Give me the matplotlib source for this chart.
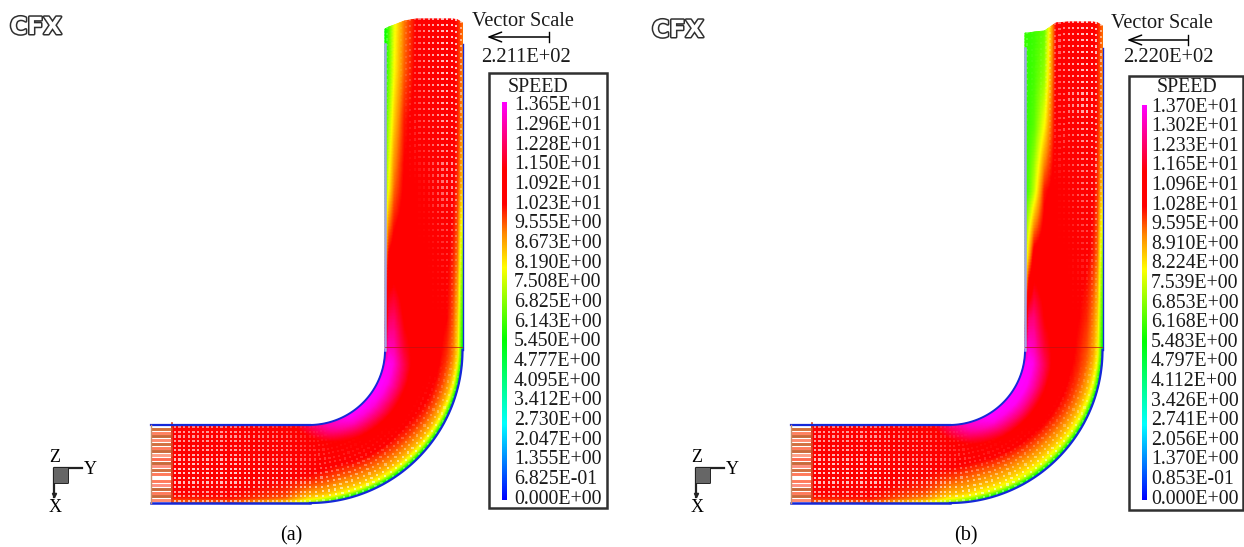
#!/usr/bin/env python
# -*- coding: utf-8 -*-
import numpy as np
import matplotlib
matplotlib.use('Agg')
import matplotlib.pyplot as plt
import matplotlib.patheffects as pe
from matplotlib.colors import LinearSegmentedColormap

plt.rcParams['font.family'] = ['Liberation Serif', 'DejaVu Serif']

labels_a = ['1.365E+01', '1.296E+01', '1.228E+01', '1.150E+01', '1.092E+01', '1.023E+01', '9.555E+00',
            '8.673E+00', '8.190E+00', '7.508E+00', '6.825E+00', '6.143E+00', '5.450E+00', '4.777E+00',
            '4.095E+00', '3.412E+00', '2.730E+00', '2.047E+00', '1.355E+00', '6.825E-01', '0.000E+00']
labels_b = ['1.370E+01', '1.302E+01', '1.233E+01', '1.165E+01', '1.096E+01', '1.028E+01', '9.595E+00',
            '8.910E+00', '8.224E+00', '7.539E+00', '6.853E+00', '6.168E+00', '5.483E+00', '4.797E+00',
            '4.112E+00', '3.426E+00', '2.741E+00', '2.056E+00', '1.370E+00', '0.853E-01', '0.000E+00']

# stations along the pipe: 0-1 straight inlet, 1-2 bend, 2-3 outlet leg
stations = [0.13, 0.5, 0.85, 1.0, 1.15, 1.35, 1.55, 1.75, 1.9, 2.0, 2.1, 2.3, 2.5, 2.7, 2.85, 3.0]
# position across the pipe: 0 inner wall, 1 outer wall
across = [0, 0.05, 0.12, 0.25, 0.4, 0.55, 0.7, 0.8, 0.88, 0.94, 1.0]

speed_a = [
    [10.0, 10.3, 10.4, 10.4, 10.4, 10.4, 10.4, 10.3, 10.2, 10.0, 9.4],
    [10.2, 10.4, 10.4, 10.4, 10.4, 10.4, 10.4, 10.3, 10.2, 10.1, 9.5],
    [11.0, 10.9, 10.8, 10.6, 10.4, 10.4, 10.2, 10.0, 9.8, 9.5, 8.5],
    [12.2, 12.0, 11.6, 10.9, 10.5, 10.4, 10.0, 9.5, 9.0, 8.4, 7.2],
    [13.0, 12.9, 12.5, 11.4, 10.6, 10.2, 9.6, 9.0, 8.5, 7.8, 5.5],
    [13.6, 13.6, 13.2, 12.0, 10.8, 10.4, 9.6, 9.1, 8.5, 7.6, 5.0],
    [13.7, 13.7, 13.4, 12.3, 11.0, 10.4, 9.8, 9.2, 8.6, 7.6, 5.0],
    [13.6, 13.7, 13.5, 12.4, 11.0, 10.5, 10.1, 9.5, 8.8, 7.8, 5.0],
    [13.2, 13.6, 13.4, 12.2, 11.0, 10.5, 10.2, 9.7, 9.0, 8.0, 5.0],
    [12.2, 13.2, 13.0, 11.8, 11.0, 10.6, 10.3, 9.9, 9.3, 8.3, 5.5],
    [9.5, 12.2, 12.3, 11.3, 10.8, 10.6, 10.4, 10.2, 9.6, 8.6, 6.0],
    [8.2, 10.2, 10.6, 10.6, 10.6, 10.5, 10.4, 10.3, 10.0, 9.4, 7.0],
    [6.5, 8.0, 9.4, 10.3, 10.5, 10.5, 10.4, 10.4, 10.3, 9.8, 8.5],
    [5.8, 7.2, 8.5, 10.0, 10.4, 10.5, 10.5, 10.4, 10.3, 10.0, 9.0],
    [5.5, 6.5, 8.0, 9.5, 10.3, 10.5, 10.5, 10.4, 10.3, 10.0, 9.2],
    [5.5, 6.2, 7.8, 9.3, 10.2, 10.5, 10.5, 10.4, 10.3, 10.0, 9.4],
]
speed_b = [
    [10.0, 10.3, 10.4, 10.4, 10.4, 10.4, 10.4, 10.3, 10.2, 10.0, 9.4],
    [10.2, 10.4, 10.4, 10.4, 10.4, 10.4, 10.4, 10.3, 10.2, 10.1, 9.5],
    [11.0, 10.9, 10.8, 10.6, 10.4, 10.3, 10.1, 9.9, 9.6, 9.2, 8.2],
    [12.4, 12.2, 11.8, 11.0, 10.5, 10.2, 9.7, 9.2, 8.8, 8.2, 7.0],
    [13.2, 13.1, 12.7, 11.6, 10.6, 10.0, 9.3, 8.8, 8.3, 7.6, 5.5],
    [13.7, 13.7, 13.4, 12.2, 10.9, 10.1, 9.3, 8.7, 8.2, 7.4, 5.0],
    [13.7, 13.7, 13.6, 12.5, 11.0, 10.3, 9.5, 8.9, 8.3, 7.4, 5.0],
    [13.7, 13.7, 13.6, 12.5, 11.0, 10.4, 9.8, 9.2, 8.5, 7.6, 5.0],
    [13.4, 13.7, 13.5, 12.3, 11.0, 10.4, 9.9, 9.4, 8.7, 7.8, 5.0],
    [12.5, 13.4, 13.1, 11.9, 11.0, 10.5, 10.0, 9.6, 9.0, 8.1, 5.5],
    [9.0, 12.4, 12.5, 11.4, 10.9, 10.5, 10.2, 9.9, 9.3, 8.5, 6.0],
    [6.8, 8.6, 10.6, 10.7, 10.6, 10.5, 10.4, 10.3, 10.0, 9.4, 7.0],
    [6.0, 6.4, 7.4, 10.0, 10.5, 10.5, 10.4, 10.4, 10.3, 9.8, 8.5],
    [6.0, 6.1, 6.4, 8.0, 10.4, 10.5, 10.5, 10.4, 10.3, 10.0, 9.0],
    [6.0, 6.0, 6.2, 7.0, 10.3, 10.5, 10.5, 10.4, 10.3, 10.0, 9.2],
    [6.0, 6.0, 6.1, 6.5, 10.2, 10.5, 10.5, 10.4, 10.3, 10.0, 9.4],
]
# how much white shows between the vectors
gaps = [
    [0.4, 0.6, 0.6, 0.6, 0.7, 0.8, 0.8, 0.7, 0.6, 0.6, 0.6],
    [0.4, 0.6, 0.6, 0.6, 0.7, 0.8, 0.8, 0.7, 0.6, 0.6, 0.6],
    [0.1, 0.3, 0.4, 0.5, 0.5, 0.7, 0.7, 0.6, 0.6, 0.5, 0.5],
    [0.0, 0.1, 0.1, 0.2, 0.3, 0.4, 0.5, 0.6, 0.6, 0.6, 0.3],
    [0.0, 0.0, 0.0, 0.0, 0.1, 0.2, 0.4, 0.5, 0.6, 0.6, 0.3],
    [0.0, 0.0, 0.0, 0.0, 0.0, 0.1, 0.3, 0.4, 0.6, 0.5, 0.2],
    [0.0, 0.0, 0.0, 0.0, 0.0, 0.0, 0.2, 0.3, 0.5, 0.5, 0.2],
    [0.0, 0.0, 0.0, 0.0, 0.0, 0.0, 0.1, 0.2, 0.3, 0.3, 0.1],
    [0.0, 0.0, 0.0, 0.0, 0.0, 0.0, 0.0, 0.1, 0.2, 0.2, 0.1],
    [0.0, 0.0, 0.0, 0.0, 0.0, 0.0, 0.0, 0.0, 0.1, 0.1, 0.0],
    [0.0, 0.0, 0.0, 0.0, 0.0, 0.0, 0.0, 0.0, 0.1, 0.1, 0.0],
    [0.0, 0.0, 0.0, 0.0, 0.0, 0.0, 0.1, 0.2, 0.3, 0.2, 0.1],
    [0.0, 0.0, 0.0, 0.0, 0.0, 0.1, 0.4, 0.5, 0.6, 0.5, 0.2],
    [0.1, 0.0, 0.0, 0.0, 0.2, 0.4, 0.6, 0.7, 0.7, 0.6, 0.3],
    [0.3, 0.1, 0.0, 0.1, 0.3, 0.6, 0.7, 0.8, 0.8, 0.7, 0.4],
    [0.3, 0.1, 0.0, 0.1, 0.3, 0.6, 0.7, 0.8, 0.8, 0.7, 0.4],
]
# height reached by the vector tips at each across position
tips_a = [29, 27, 25, 21, 19, 19, 19, 19, 19, 20, 23]
tips_b = [33, 33, 32, 31, 23, 22, 22, 22, 22, 23, 26]

inlet_shades = ['#d0703a', '#ff8060', '#c8693a', '#ff8a70', '#d07040', '#ff7a5a', '#c8693a', '#ffa088',
                '#ff6a50', '#c8693a', '#ff9080', '#d07040', '#ff7a5a', '#ffffff', '#ff7a5a', '#ff9080',
                '#c8693a', '#ff7a5a', '#c8693a', '#ff8a70']

cmap = LinearSegmentedColormap.from_list('cfx', [
    (0.0, '#0000ff'), (2.6 / 13.7, '#00ffff'), (5.5 / 13.7, '#00ff00'), (8.0 / 13.7, '#ffff00'),
    (9.2 / 13.7, '#ff8800'), (10.2 / 13.7, '#ff0000'), (11.4 / 13.7, '#ff0000'), (1.0, '#ff00ff')])


def place(s, t, tips, dx):
    # pipe coordinates to picture pixels
    s, t = np.asarray(s, float), np.asarray(t, float)
    ang = np.clip(s - 1, 0, 1) * np.pi / 2
    r = 75 + 77.5 * t
    x = 310 + r * np.sin(ang)
    y = 350 + r * np.cos(ang)
    x = np.where(s < 1, 151 + s * 159, x)
    top = np.interp(t, across, tips)
    y = np.where(s > 2, 350 - (s - 2) * (350 - top), y)
    return x + dx, y


def resample(table, s_new, t_new):
    table = np.array(table, float)
    rows = np.array([np.interp(t_new, across, r) for r in table])
    return np.array([np.interp(s_new, stations, rows[:, j]) for j in range(len(t_new))]).T


def draw_panel(ax, speed, tips, labels, dx, wall_top, scale, scale_text, vs_y, cap, cap_x, box, bar, lab_x, lab_y,
               speed_x, logo, triad_dx):
    s_f = np.linspace(stations[0], stations[-1], 300)
    t_f = np.linspace(0, 1, 80)
    S, T = np.meshgrid(s_f, t_f, indexing='ij')
    X, Y = place(S, T, tips, dx)
    ax.pcolormesh(X, Y, resample(speed, s_f, t_f), cmap=cmap, vmin=0, vmax=13.7, shading='gouraud', zorder=2)

    # inlet stubs of the vectors
    for i, c in enumerate(inlet_shades):
        y = 427 + (i + 0.5) * 75 / len(inlet_shades)
        ax.plot([151 + dx, 172 + dx], [y, y], color=c, lw=2.1, solid_capstyle='butt', zorder=2)
    ax.plot([172 + dx, 172 + dx], [423, 503], color='#d84020', lw=1.2, zorder=3)

    # white showing between the vector lines
    s_d = np.concatenate([np.linspace(0.15, 1, 30), np.linspace(1, 2, 36)[1:], np.linspace(2, 3, 56)[1:]])
    t_d = np.linspace(0.03, 0.98, 17)
    Sd, Td = np.meshgrid(s_d, t_d, indexing='ij')
    Xd, Yd = place(Sd, Td, tips, dx)
    rgba = np.ones((Sd.size, 4))
    rgba[:, 3] = resample(gaps, s_d, t_d).ravel()
    ax.scatter(Xd.ravel(), Yd.ravel(), s=2.4, c=rgba, marker='s', linewidths=0, zorder=4)

    # pipe outline
    blue = '#1428d8'
    ang = np.linspace(0, np.pi / 2, 80)
    ax.plot(310 + dx + 76 * np.sin(ang) - 1, 350 + 75 * np.cos(ang), color=blue, lw=1.4, zorder=5)
    ax.plot(310 + dx + 152.5 * np.sin(ang), 350 + 153 * np.cos(ang), color=blue, lw=1.6, zorder=5)
    ax.plot([151 + dx, 310 + dx], [425, 425], color=blue, lw=1.6, zorder=5)
    ax.plot([151 + dx, 310 + dx], [503, 503], color=blue, lw=1.8, zorder=5)
    ax.plot([151 + dx, 151 + dx], [425, 503], color='#c89070', lw=1, zorder=5)
    ax.plot([384.5 + dx, 384.5 + dx], [wall_top, 350], color='#a0a4e8', lw=1.8, zorder=5)
    ax.plot([462.5 + dx, 462.5 + dx], [wall_top, 350], color=blue, lw=1, zorder=5)
    ax.plot([385 + dx, 462 + dx], [347, 347], color='#c01010', lw=0.5, zorder=5)

    # vector scale
    ax.text(scale[0] - 26, vs_y, 'Vector Scale', fontsize=14.6, ha='center', va='center', color='#1a1a1a', zorder=6)
    ax.annotate('', xy=(scale[1], scale[2]), xytext=(scale[0], scale[2]),
                arrowprops=dict(arrowstyle='->,head_length=0.9,head_width=0.35', lw=1.1, color='k', shrinkA=0, shrinkB=0))
    ax.plot([scale[0], scale[0]], [scale[2] - 5, scale[2] + 5], color='k', lw=1)
    ax.text(scale[3], 58, scale_text, fontsize=14.8, ha='left', va='center', color='#1a1a1a')

    # legend
    ax.add_patch(plt.Rectangle((box[0], box[1]), box[2] - box[0], box[3] - box[1], fc='white', ec='#303030', lw=1.8, zorder=6))
    grad = np.linspace(13.7, 0, 256).reshape(-1, 1)
    ax.imshow(grad, extent=[bar[0], bar[1], bar[3], bar[2]], cmap=cmap, vmin=0, vmax=13.7, aspect='auto', zorder=7)
    ax.text(speed_x, 88, 'SPEED', fontsize=14.3, ha='left', va='center', color='#1a1a1a', zorder=7)
    for lab, y in zip(labels, np.linspace(lab_y[0], lab_y[1], len(labels))):
        ax.text(lab_x, y, lab, fontsize=14.3, ha='left', va='center', color='#1a1a1a', zorder=7)

    # logo
    ax.text(logo[0], logo[1], 'CFX', fontsize=17, fontweight='bold', family='DejaVu Sans',
            ha='left', va='center', color='white',
            path_effects=[pe.withStroke(linewidth=2.2, foreground='#303030')])

    # axis triad
    tx = dx + triad_dx
    ax.add_patch(plt.Rectangle((54 + tx, 468), 14, 15, fc='#666666', ec='none', zorder=3))
    ax.plot([54 + tx, 54 + tx, 82 + tx], [497, 468, 468], color='#222222', lw=1.6)
    ax.plot([54 + tx, 68 + tx, 68 + tx], [483, 483, 468], color='#222222', lw=1.4)
    ax.plot([54 + tx], [495], marker='v', ms=3, color='#222222')
    ax.text(55 + tx, 457, 'Z', fontsize=13, ha='center', va='center')
    ax.text(90 + tx, 470, 'Y', fontsize=13, ha='center', va='center')
    ax.text(55 + tx, 507, 'X', fontsize=13, ha='center', va='center')

    ax.text(cap_x, 536, cap, fontsize=14.5, ha='center', va='center')


fig = plt.figure(figsize=(12.44, 5.47), dpi=100)
ax = fig.add_axes([0, 0, 1, 1])

draw_panel(ax, speed_a, tips_a, labels_a, 0, 44, (549, 487, 37, 481), '2.211E+02', 21, '(a)', 291,
           (489, 73, 607, 508), (502, 507, 102, 500), 514, (106, 499), 508, (10, 27), 0)
draw_panel(ax, speed_b, tips_b, labels_b, 640, 48, (1188, 1127, 40, 1123), '2.220E+02', 23, '(b)', 966,
           (1129, 76, 1243, 510), (1142, 1147, 105, 500), 1151, (107, 499), 1157, (652, 30), 2)

ax.set_xlim(0, 1244)
ax.set_ylim(547, 0)
ax.axis('off')
fig.savefig('out.png', dpi=100)
